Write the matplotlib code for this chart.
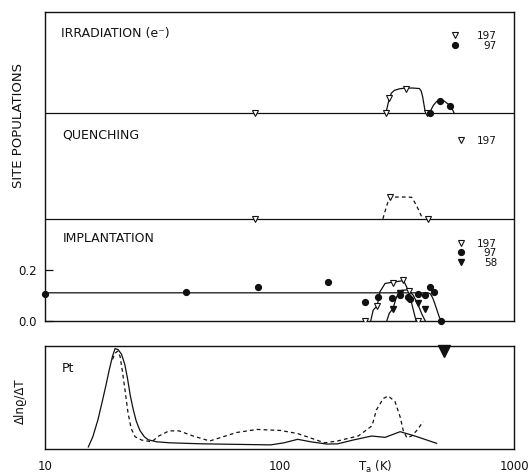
import numpy as np
import matplotlib
matplotlib.use("Agg")
import matplotlib.pyplot as plt
from matplotlib.transforms import blended_transform_factory

# ---------------------------------------------------------------
# Site populations (upper box, three stacked traces)
# ---------------------------------------------------------------
# irradiation (e-)
irr_197_T = [79, 284, 294, 346, 424]
irr_197_v = [0.0, 0.0, 0.059, 0.098, 0.0]
irr_97_T = [438, 485, 535]
irr_97_v = [0.0, 0.05, 0.029]
irr_197_fit_T = [284, 289, 294, 300, 309, 325, 346, 370, 395, 402, 408, 413, 417, 424]
irr_197_fit_v = [0.0, 0.03, 0.059, 0.08, 0.091, 0.097, 0.1, 0.1, 0.098, 0.088, 0.065, 0.035, 0.013, 0.0]
irr_97_fit_T = [438, 445, 454, 468, 485, 505, 525, 540, 550, 556]
irr_97_fit_v = [0.0, 0.018, 0.033, 0.047, 0.052, 0.048, 0.036, 0.025, 0.01, 0.0]

# quenching
qu_197_T = [79, 297, 428]
qu_197_v = [0.0, 0.085, 0.0]
qu_fit_T = [276, 282, 289, 297, 320, 345, 366, 380, 392, 402, 410]
qu_fit_v = [0.0, 0.03, 0.062, 0.085, 0.086, 0.086, 0.085, 0.06, 0.035, 0.012, 0.0]

# implantation
imp_197_T = [232, 261, 304, 337, 356, 391]
imp_197_v = [0.0, 0.059, 0.149, 0.16, 0.118, 0.0]
imp_97_T = [10, 39.9, 80.7, 161, 232, 262, 302, 328, 353, 361, 388, 417, 438, 454, 488]
imp_97_v = [0.105, 0.112, 0.133, 0.152, 0.072, 0.094, 0.091, 0.102, 0.094, 0.086, 0.105, 0.102, 0.133, 0.114, 0.0]
imp_58_T = [304, 327, 388, 417]
imp_58_v = [0.046, 0.11, 0.068, 0.046]
imp_197_fit_T = [245, 251, 261, 268, 282, 304, 337, 343, 356, 366, 375, 382]
imp_197_fit_v = [0.0, 0.042, 0.059, 0.114, 0.147, 0.152, 0.158, 0.147, 0.114, 0.069, 0.03, 0.0]
imp_97_fit_T = [10, 430, 440, 450, 460, 470, 480, 488]
imp_97_fit_v = [0.11, 0.11, 0.106, 0.09, 0.066, 0.04, 0.015, 0.0]
imp_58_fit_T = [287, 294, 304, 316, 332, 354, 372, 391, 405, 418]
imp_58_fit_v = [0.0, 0.03, 0.046, 0.095, 0.12, 0.122, 0.1, 0.06, 0.025, 0.0]

# ---------------------------------------------------------------
# Pt: annealing spectrum d(ln rho)/dT
# ---------------------------------------------------------------
pt_solid_T = [15.3, 16.0, 16.8, 17.5, 18.2, 18.8, 19.4, 19.9, 20.5, 21.2, 21.9, 22.5, 23.1, 23.8,
              24.5, 25.4, 26.5, 27.5, 29.9, 34.1, 47.1, 91.7, 104.5, 119.5, 136, 159, 177, 206,
              247, 282, 327, 378, 425, 468]
pt_solid_v = [0.02, 0.12, 0.28, 0.45, 0.62, 0.77, 0.9, 0.975, 0.965, 0.92, 0.82, 0.68, 0.52, 0.38,
              0.27, 0.18, 0.12, 0.09, 0.07, 0.06, 0.05, 0.04, 0.06, 0.094, 0.07, 0.048, 0.05, 0.087,
              0.126, 0.113, 0.168, 0.126, 0.087, 0.055]
pt_dash_T = [19.4, 19.9, 20.4, 20.9, 21.4, 22.0, 22.6, 23.3, 24.2, 25.8, 28.5, 30.6, 33.8, 37.3,
             42.7, 50.4, 65.6, 80.2, 101, 119.5, 141, 155.6, 177, 217, 248, 259, 277, 291, 311,
             327, 337, 349, 366, 385, 410]
pt_dash_v = [0.87, 0.93, 0.95, 0.9, 0.75, 0.55, 0.35, 0.2, 0.12, 0.087, 0.07, 0.127, 0.176, 0.176,
             0.127, 0.078, 0.16, 0.19, 0.18, 0.15, 0.094, 0.06, 0.078, 0.127, 0.225, 0.38, 0.49,
             0.515, 0.46, 0.31, 0.18, 0.11, 0.126, 0.18, 0.265]
pt_mark_T = [502]
pt_mark_v = [0.948]

x_ticks = [10, 100, 1000]
x_ticklabels = ["10", "100", "1000"]

# vertical offsets of the three traces inside the upper box
irr_off = 0.818
qu_off = 0.402
imp_off = 0.0

ink = "#111111"
plt.rcParams["font.family"] = "DejaVu Sans"
plt.rcParams["text.color"] = ink

W, H = 530, 474
fig = plt.figure(figsize=(W / 100, H / 100), dpi=100)
left, right = 45, 514
ax = fig.add_axes([left / W, 1 - 320.7 / H, (right - left) / W, (320.7 - 12) / H])
axb = fig.add_axes([left / W, 1 - 449 / H, (right - left) / W, (449 - 346) / H])

open_tri = dict(marker="v", ms=4.8, mfc="white", mec=ink, mew=0.8, ls="none", zorder=4)
dot = dict(marker="o", ms=4.2, mfc=ink, mec=ink, ls="none", zorder=4)
fill_tri = dict(marker="v", ms=4.8, mfc=ink, mec=ink, ls="none", zorder=4)
line_kw = dict(color=ink, lw=0.9)

def off(v, o):
    return np.asarray(v) + o

# irradiation
ax.axhline(irr_off, **line_kw)
ax.plot(irr_197_fit_T, off(irr_197_fit_v, irr_off), **line_kw)
ax.plot(irr_97_fit_T, off(irr_97_fit_v, irr_off), **line_kw)
ax.plot(irr_197_T, off(irr_197_v, irr_off), **open_tri)
ax.plot(irr_97_T, off(irr_97_v, irr_off), **dot)

# quenching
ax.axhline(qu_off, **line_kw)
ax.plot(qu_fit_T, off(qu_fit_v, qu_off), color=ink, lw=0.9, ls=(0, (3, 2.5)))
ax.plot(qu_197_T, off(qu_197_v, qu_off), **open_tri)

# implantation
ax.plot(imp_197_fit_T, imp_197_fit_v, **line_kw)
ax.plot(imp_97_fit_T, imp_97_fit_v, **line_kw)
ax.plot(imp_58_fit_T, imp_58_fit_v, **line_kw)
ax.plot(imp_197_T, imp_197_v, **open_tri)
ax.plot(imp_97_T, imp_97_v, clip_on=False, **dot)
ax.plot(imp_58_T, imp_58_v, **fill_tri)

ax.set_xscale("log")
ax.set_xlim(10, 1000)
ax.set_ylim(0, 1.218)
ax.set_yticks([0.0, 0.2])
ax.set_yticklabels(["0.0", "0.2"])
ax.tick_params(axis="y", direction="in", length=6, width=0.9, pad=6, labelsize=8.5, colors=ink)
ax.tick_params(axis="x", which="both", length=0, labelbottom=False)
for s in ax.spines.values():
    s.set_color(ink)
    s.set_linewidth(1.0)

# panel titles and keys
tr = blended_transform_factory(ax.transAxes, ax.transData)
fs = 9
ax.text(0.035, 1.132, "IRRADIATION (e⁻)", transform=tr, fontsize=fs, va="center")
ax.text(0.037, 0.732, "QUENCHING", transform=tr, fontsize=fs, va="center")
ax.text(0.037, 0.324, "IMPLANTATION", transform=tr, fontsize=fs, va="center")

def key(y, style, label, xm=0.888):
    ax.plot([xm], [y], transform=tr, clip_on=False, **style)
    ax.text(0.964, y, label, transform=tr, fontsize=7.5, ha="right", va="center_baseline")

key(1.126, open_tri, "197", xm=0.875)
key(1.088, dot, "97", xm=0.875)
key(0.712, open_tri, "197")
key(0.306, open_tri, "197")
key(0.270, dot, "97")
key(0.233, fill_tri, "58")

# Pt spectrum
axb.plot(pt_solid_T, pt_solid_v, color=ink, lw=0.9)
axb.plot(pt_dash_T, pt_dash_v, color=ink, lw=0.9, ls=(0, (3, 2.5)))
axb.plot(pt_mark_T, pt_mark_v, marker="v", ms=8.4, color=ink, ls="none", clip_on=False)
axb.set_xscale("log")
axb.set_xlim(10, 1000)
axb.set_ylim(0, 1.0)
axb.set_yticks([])
axb.set_xticks(x_ticks)
axb.set_xticklabels(x_ticklabels)
axb.minorticks_off()
axb.tick_params(axis="x", length=0, pad=8, labelsize=8.5, colors=ink)
for s in axb.spines.values():
    s.set_color(ink)
    s.set_linewidth(1.0)
axb.text(0.036, 0.786, "Pt", transform=axb.transAxes, fontsize=fs, va="center")

fig.text(18.6 / W, 1 - 126 / H, "SITE POPULATIONS", rotation=90, fontsize=9.5,
         ha="center", va="center")
fig.text(20 / W, 1 - 401 / H, "Δlnϱ/ΔT", rotation=90, fontsize=8.5,
         ha="center", va="center")
fig.text(375 / W, 1 - 459 / H, r"T$_\mathregular{a}$ (K)", fontsize=8.5,
         ha="center", va="top")

fig.savefig("out.png", dpi=100, facecolor="white")
